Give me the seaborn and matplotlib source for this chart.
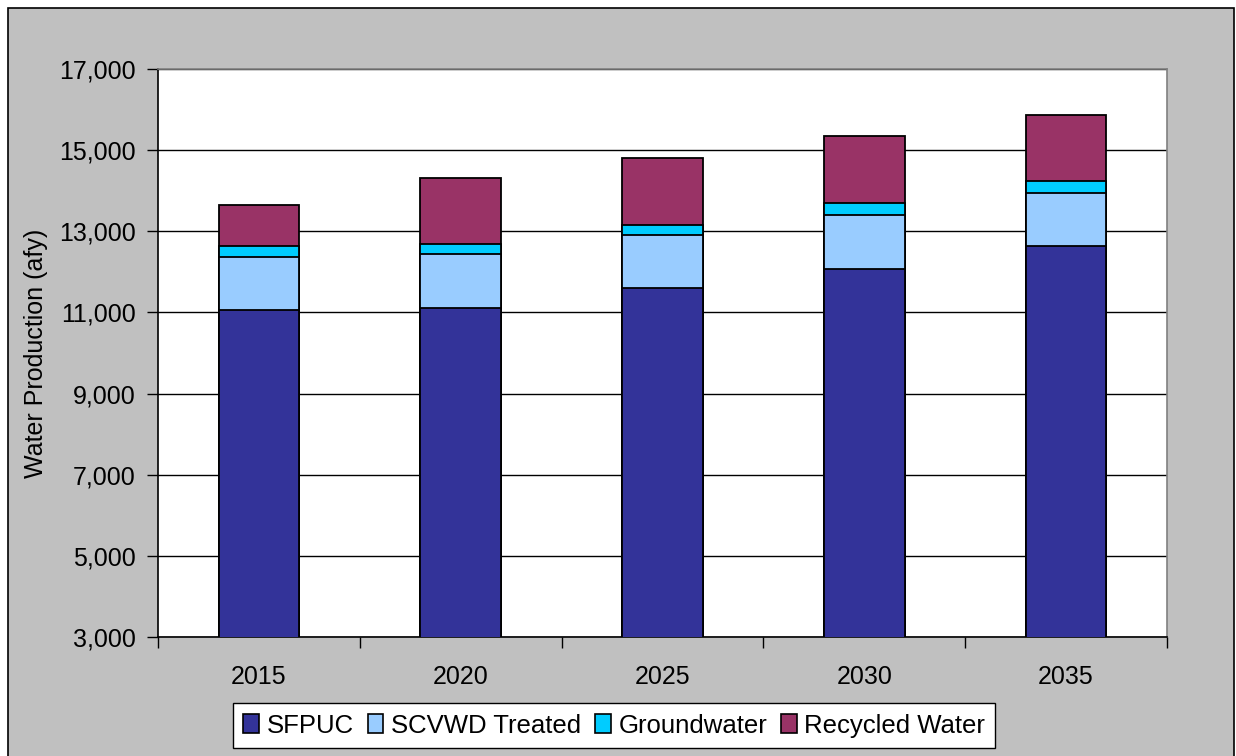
import matplotlib
matplotlib.use("Agg")
import matplotlib.pyplot as plt
from matplotlib.patches import Rectangle, Patch
import numpy as np
import pandas as pd
import seaborn as sns

# Projected water production by source (acre-feet per year)
years = ["2015", "2020", "2025", "2030", "2035"]
sfpuc = [11050, 11100, 11590, 12080, 12630]
scvwd_treated = [1325, 1330, 1330, 1330, 1325]
groundwater = [255, 255, 245, 285, 280]
recycled_water = [1030, 1625, 1630, 1645, 1635]

series_names = ["SFPUC", "SCVWD Treated", "Groundwater", "Recycled Water"]
series_values = [sfpuc, scvwd_treated, groundwater, recycled_water]
series_colors = ["#333399", "#99CCFF", "#00CCFF", "#993366"]

y_ticks = [3000, 5000, 7000, 9000, 11000, 13000, 15000, 17000]

sns.set_theme(style="white")
plt.rcParams["font.family"] = ["Liberation Sans", "DejaVu Sans"]
plt.rcParams["text.color"] = "black"
plt.rcParams["xtick.color"] = "black"
plt.rcParams["ytick.color"] = "black"
plt.rcParams["axes.labelcolor"] = "black"
FS = 18

fig = plt.figure(figsize=(12.36, 7.56), dpi=100, facecolor="white")

# grey chart area with a black outline
fig.patches.append(Rectangle((8 / 1236, -0.02), (1234 - 8) / 1236, 1 - 8 / 756 + 0.02,
                             transform=fig.transFigure, facecolor="#C0C0C0",
                             edgecolor="black", linewidth=1.2, zorder=-1))

ax = fig.add_axes([158 / 1236, 1 - 637 / 756, (1167 - 158) / 1236, (637 - 69) / 756])
ax.set_zorder(1)
ax.set_facecolor("white")

# stacked bars: draw cumulative totals from the tallest layer down
df = pd.DataFrame({"year": years})
cum = np.zeros(len(years))
cums = []
for vals in series_values:
    cum = cum + np.array(vals)
    cums.append(cum.copy())
for name, c, color in reversed(list(zip(series_names, cums, series_colors))):
    sns.barplot(x=df["year"], y=c, color=color, saturation=1, width=0.4,
                edgecolor="black", linewidth=1.3, ax=ax, zorder=3)

ax.set_ylim(3000, 17000)
ax.set_xlim(-0.5, len(years) - 0.5)
ax.set_yticks(y_ticks)
ax.set_yticklabels([f"{v:,}" for v in y_ticks], fontsize=FS)
ax.yaxis.grid(True, color="black", linewidth=1.0, zorder=0)
ax.set_axisbelow(True)

# category boundaries as tick marks, labels centred on the bars
ax.set_xticks(np.arange(-0.5, len(years), 1.0))
ax.set_xticklabels([])
ax.set_xticks(np.arange(len(years)), minor=True)
ax.set_xticklabels(years, minor=True, fontsize=FS)
ax.tick_params(axis="x", which="major", direction="out", length=8, width=1, color="black", bottom=True)
ax.tick_params(axis="x", which="minor", length=0, pad=20)
ax.tick_params(axis="y", direction="out", length=8, width=1, color="black", left=True, pad=8)

ax.set_xlabel("")
ax.set_ylabel("Water Production (afy)", fontsize=FS, labelpad=8)

for side in ["left", "bottom"]:
    ax.spines[side].set_color("black")
    ax.spines[side].set_linewidth(1.2)
for side in ["top", "right"]:
    ax.spines[side].set_color("#808080")
    ax.spines[side].set_linewidth(1.2)
    ax.spines[side].set_visible(True)

handles = [Patch(facecolor=c, edgecolor="black", linewidth=1.2) for c in series_colors]
leg = fig.legend(handles, series_names, loc="center", bbox_to_anchor=(0.497, 0.040),
                 ncol=4, fontsize=FS + 0.5, frameon=True, fancybox=False, framealpha=1,
                 edgecolor="black", handlelength=0.6, handleheight=0.75,
                 handletextpad=0.3, columnspacing=0.55, borderpad=0.4)
leg.get_frame().set_linewidth(1.0)

fig.savefig("out.png", dpi=100, facecolor="white")
